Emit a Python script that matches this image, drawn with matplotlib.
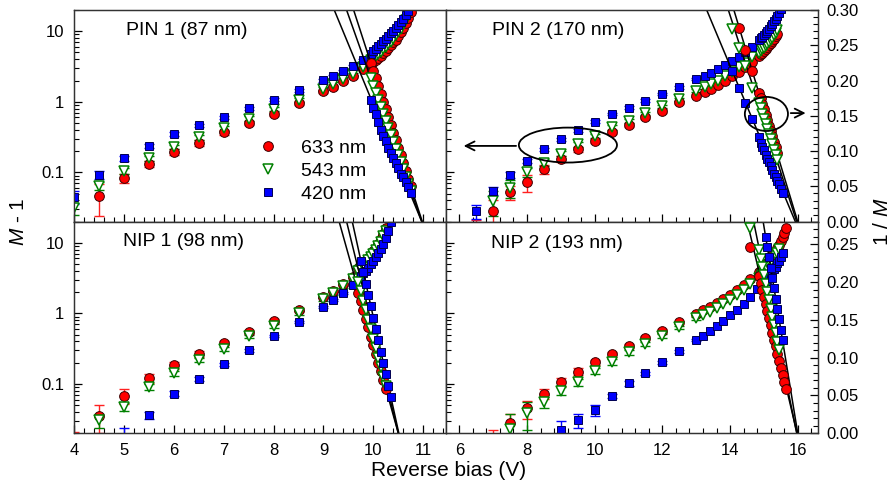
import numpy as np
import matplotlib
matplotlib.use("Agg")
import matplotlib.pyplot as plt
from matplotlib.patches import Ellipse
from matplotlib.ticker import (MultipleLocator, LogLocator, NullFormatter,
                               FixedLocator, FixedFormatter, FormatStrFormatter)

nan = np.nan

# ---------------- PIN 1 (87 nm) ----------------
pin1_v = [4.0, 4.5, 5.0, 5.5, 6.0, 6.5, 7.0, 7.5, 8.0, 8.5, 9.0, 9.2, 9.4, 9.6, 9.8]
pin1_red = [nan, 0.046, 0.083, 0.131, 0.194, 0.265, 0.368, 0.499, 0.67, 0.96, 1.40, 1.63, 1.97, 2.29, 2.91]
pin1_red_err = [nan, 0.022, 0.012, 0.012, 0.02, 0.025, 0.03, 0.035, 0.045, 0.06, 0.08, 0.09, 0.1, 0.11, 0.13]
pin1_green = [0.031, 0.064, 0.105, 0.159, 0.23, 0.313, 0.42, 0.58, 0.79, 1.07, 1.51, 1.78, 2.10, 2.47, 3.07]
pin1_green_err = [0.006, 0.008, 0.01, 0.012, 0.018, 0.022, 0.03, 0.04, 0.05, 0.07, 0.09, 0.1, 0.12, 0.13, 0.15]
pin1_blue = [0.045, 0.092, 0.159, 0.238, 0.348, 0.467, 0.607, 0.805, 1.07, 1.45, 2.01, 2.29, 2.70, 3.18, 3.86]
pin1_blue_err = [0.009, 0.011, 0.013, 0.016, 0.02, 0.025, 0.032, 0.04, 0.05, 0.07, 0.09, 0.1, 0.12, 0.13, 0.15]

pin1_vd = [9.95, 10.0, 10.05, 10.1, 10.15, 10.2, 10.25, 10.3, 10.35, 10.4, 10.45, 10.5,
           10.55, 10.6, 10.65, 10.7, 10.75]
pin1_red_d = [3.44, 3.67, 3.93, 4.21, 4.52, 4.88, 5.29, 5.76, 6.30, 6.94, 7.62, 8.52, 9.64, 11.0, 12.9, 15.4, 19.0]
pin1_red_inv = [0.225, 0.214, 0.203, 0.192, 0.181, 0.170, 0.159, 0.148, 0.137, 0.126, 0.116, 0.105,
                0.094, 0.083, 0.072, 0.061, 0.050]
pin1_green_d = [3.93, 4.18, 4.46, 4.78, 5.13, 5.54, 5.99, 6.52, 7.13, 7.85, 8.71, 9.64, 10.9, 12.5, 14.6, 17.5, 21.7]
pin1_green_inv = [0.203, 0.193, 0.183, 0.173, 0.163, 0.153, 0.143, 0.133, 0.123, 0.113, 0.103, 0.094,
                  0.084, 0.074, 0.064, 0.054, 0.044]
pin1_blue_d = [4.8, 5.2, 5.6, 6.1, 6.7, 7.2, 7.8, 8.5, 9.3, 10.1, 11.0, 12.2, 13.6, 15.0, 17.0, 19.5, 24.0]
pin1_blue_inv = [0.172, 0.161, 0.152, 0.141, 0.130, 0.122, 0.114, 0.105, 0.097, 0.090, 0.083, 0.076,
                 0.068, 0.063, 0.056, 0.049, 0.040]
# linear fits of 1/M: breakdown voltage and slope (red, green, blue)
pin1_vbd = [10.98, 10.97, 10.97]
pin1_slope = [0.218, 0.199, 0.171]

# ---------------- PIN 2 (170 nm) ----------------
pin2_v = [6.5, 7.0, 7.5, 8.0, 8.5, 9.0, 9.5, 10.0, 10.5, 11.0, 11.5, 12.0, 12.5, 13.0]
pin2_red = [0.015, 0.028, 0.052, 0.072, 0.111, 0.157, 0.213, 0.28, 0.375, 0.467, 0.60, 0.745, 0.98, 1.22]
pin2_red_err = [0.006, 0.013, 0.012, 0.02, 0.015, 0.015, 0.018, 0.02, 0.025, 0.03, 0.035, 0.04, 0.05, 0.06]
pin2_green = [nan, 0.039, 0.061, 0.102, 0.138, 0.185, 0.251, 0.33, 0.433, 0.538, 0.684, 0.86, 1.09, 1.43]
pin2_green_err = [nan, 0.015, 0.018, 0.015, 0.015, 0.015, 0.02, 0.025, 0.03, 0.035, 0.04, 0.05, 0.06, 0.07]
pin2_blue = [0.028, 0.055, 0.091, 0.146, 0.213, 0.296, 0.397, 0.52, 0.67, 0.83, 1.03, 1.29, 1.60, 2.10]
pin2_blue_err = [0.006, 0.007, 0.009, 0.01, 0.012, 0.015, 0.02, 0.025, 0.03, 0.04, 0.05, 0.06, 0.07, 0.09]

pin2_rg_vd = [13.25, 13.45, 13.65, 13.85, 14.05, 14.25, 14.45, 14.65, 14.85, 14.9, 14.95, 15.0,
              15.05, 15.1, 15.15, 15.2, 15.25, 15.3, 15.35, 15.4]
pin2_red_d = [1.36, 1.51, 1.72, 1.98, 2.29, 2.64, 3.1, 3.7, 4.49, 4.71, 4.99, 5.29, 5.62, 5.94,
              6.35, 6.75, 7.26, 7.85, 8.43, 9.2]
pin2_red_inv = [nan, nan, nan, nan, nan, 0.275, 0.244, 0.213, 0.182, 0.175, 0.167, 0.159, 0.151,
                0.144, 0.136, 0.129, 0.121, 0.113, 0.106, 0.098]
pin2_green_d = [1.6, 1.78, 1.98, 2.29, 2.61, 3.07, 3.55, 4.29, 4.95, 5.21, 5.54, 5.85, 6.19, 6.63,
                7.06, 7.55, 8.09, 8.8, 9.5, 10.4]
pin2_green_inv = [nan, nan, nan, nan, 0.273, 0.246, 0.22, 0.189, 0.168, 0.161, 0.153, 0.146, 0.139,
                  0.131, 0.124, 0.117, 0.110, 0.102, 0.095, 0.088]
pin2_blue_vd = [13.25, 13.45, 13.65, 13.85, 14.05, 14.25, 14.45, 14.65, 14.85, 14.9, 14.95, 15.0,
                15.05, 15.1, 15.15, 15.2, 15.25, 15.3, 15.35, 15.4, 15.45, 15.5, 15.55]
pin2_blue_d = [2.34, 2.6, 2.9, 3.3, 3.75, 4.3, 5.0, 5.9, 7.4, 7.9, 8.4, 8.9, 9.5, 10.2, 10.9, 11.7,
               12.7, 13.8, 15.0, 16.4, 18.0, 20.5, 24.0]
pin2_blue_inv = [nan, nan, nan, nan, 0.213, 0.19, 0.168, 0.146, 0.12, 0.112, 0.106, 0.101, 0.095,
                 0.089, 0.084, 0.079, 0.073, 0.068, 0.063, 0.058, 0.053, 0.046, 0.040]
pin2_vbd = [16.0, 15.97, 15.93]
pin2_slope = [0.159, 0.1485, 0.1145]

# ---------------- NIP 1 (98 nm) ----------------
nip1_v = [4.0, 4.5, 5.0, 5.5, 6.0, 6.5, 7.0, 7.5, 8.0, 8.5, 9.0, 9.2, 9.4, 9.6]
nip1_red = [0.012, 0.035, 0.068, 0.121, 0.185, 0.267, 0.383, 0.548, 0.785, 1.12, 1.72, 2.07, 2.58, 3.31]
nip1_red_err = [0.009, 0.015, 0.016, 0.017, 0.02, 0.025, 0.03, 0.035, 0.045, 0.06, 0.08, 0.09, 0.1, 0.12]
nip1_green = [nan, 0.031, 0.047, 0.091, 0.142, 0.218, 0.318, 0.472, 0.668, 1.01, 1.6, 1.94, 2.42, 3.07]
nip1_green_err = [nan, 0.007, 0.006, 0.008, 0.012, 0.015, 0.02, 0.03, 0.04, 0.06, 0.08, 0.09, 0.1, 0.12]
nip1_blue = [nan, nan, 0.018, 0.036, 0.073, 0.117, 0.191, 0.301, 0.482, 0.76, 1.24, 1.55, 1.94, 2.52]
nip1_blue_err = [nan, nan, 0.006, 0.004, 0.006, 0.008, 0.01, 0.015, 0.02, 0.03, 0.05, 0.06, 0.07, 0.09]

nip1_rg_vd = [9.7, 9.75, 9.8, 9.85, 9.9, 9.95, 10.0, 10.05, 10.1, 10.15, 10.2, 10.25]
nip1_red_d = [4.38, 4.71, 5.13, 5.62, 6.14, 6.81, 7.55, 8.52, 9.75, 11.2, 13.3, 16.2]
nip1_red_inv = [0.186, 0.175, 0.163, 0.151, 0.140, 0.128, 0.117, 0.105, 0.093, 0.082, 0.070, 0.058]
nip1_green_d = [4.0, 4.32, 4.71, 5.13, 5.67, 6.25, 7.0, 7.85, 9.0, 10.4, 12.3, 14.9]
nip1_green_inv = [0.200, 0.188, 0.175, 0.163, 0.150, 0.138, 0.125, 0.113, 0.100, 0.088, 0.075, 0.063]
nip1_blue_vd = [9.75, 9.8, 9.85, 9.9, 9.95, 10.0, 10.05, 10.1, 10.15, 10.2, 10.25, 10.3, 10.35]
nip1_blue_d = [3.39, 3.69, 4.05, 4.46, 4.95, 5.54, 6.25, 7.13, 8.26, 9.75, 11.8, 14.9, 19.8]
nip1_blue_inv = [0.228, 0.213, 0.198, 0.183, 0.168, 0.153, 0.138, 0.123, 0.108, 0.093, 0.078, 0.063, 0.048]
nip1_vbd = [10.5, 10.5, 10.51]
nip1_slope = [0.236, 0.27, 0.30]

# ---------------- NIP 2 (193 nm) ----------------
nip2_v = [7.0, 7.5, 8.0, 8.5, 9.0, 9.5, 10.0, 10.5, 11.0, 11.5, 12.0, 12.5, 13.0]
nip2_red = [0.015, 0.028, 0.045, 0.073, 0.108, 0.15, 0.202, 0.265, 0.347, 0.446, 0.567, 0.745, 0.98]
nip2_red_err = [0.007, 0.01, 0.013, 0.012, 0.014, 0.016, 0.018, 0.02, 0.025, 0.03, 0.035, 0.045, 0.05]
nip2_green = [nan, 0.023, 0.039, 0.055, 0.080, 0.107, 0.153, 0.206, 0.28, 0.367, 0.481, 0.633, 0.85]
nip2_green_err = [nan, 0.015, 0.017, 0.01, 0.01, 0.012, 0.014, 0.018, 0.02, 0.025, 0.03, 0.04, 0.05]
nip2_blue = [nan, nan, nan, nan, 0.022, 0.031, 0.043, 0.068, 0.102, 0.141, 0.202, 0.289, 0.418]
nip2_blue_err = [nan, nan, nan, nan, 0.008, 0.007, 0.008, 0.005, 0.007, 0.008, 0.01, 0.012, 0.015]

nip2_red_vd = [13.2, 13.4, 13.6, 13.8, 14.0, 14.2, 14.4, 14.6, 14.85, 14.9, 14.95, 15.0, 15.05,
               15.1, 15.15, 15.2, 15.25, 15.3, 15.35, 15.4, 15.45, 15.5, 15.55, 15.6, 15.65]
nip2_red_d = [1.11, 1.24, 1.40, 1.60, 1.83, 2.14, 2.52, 3.07, 3.81, 4.03, 4.26, 4.56, 4.85, 5.17,
              5.58, 5.99, 6.52, 7.06, 7.70, 8.52, 9.42, 10.6, 12.0, 13.7, 16.2]
nip2_red_inv = [nan, nan, nan, nan, nan, nan, nan, 0.247, 0.208, 0.199, 0.190, 0.180, 0.171, 0.162,
                0.152, 0.143, 0.133, 0.124, 0.115, 0.105, 0.096, 0.086, 0.077, 0.068, 0.058]
nip2_green_vd = [13.2, 13.4, 13.6, 13.8, 14.0, 14.2, 14.4, 14.6, 14.85, 14.9, 14.95, 15.0, 15.05,
                 15.1, 15.15, 15.2, 15.25, 15.3, 15.35, 15.4, 15.45]
nip2_green_d = [0.95, 1.05, 1.19, 1.35, 1.56, 1.82, 2.16, 2.6, 3.13, 3.33, 3.55, 3.78, 4.05, 4.35,
                4.68, 5.06, 5.49, 5.99, 6.58, 7.26, 8.09]
nip2_green_inv = [nan, nan, nan, nan, nan, nan, nan, 0.272, 0.242, 0.231, 0.220, 0.209, 0.198,
                  0.187, 0.176, 0.165, 0.154, 0.143, 0.132, 0.121, 0.110]
nip2_blue_vd = [13.2, 13.4, 13.6, 13.8, 14.0, 14.2, 14.4, 14.6, 14.8, 15.05, 15.1, 15.15, 15.2,
                15.25, 15.3, 15.35, 15.4, 15.45, 15.5, 15.55]
nip2_blue_d = [0.481, 0.566, 0.667, 0.785, 0.946, 1.12, 1.35, 1.69, 2.21, 2.85, 3.05, 3.29, 3.57,
               3.85, 4.21, 4.62, 5.10, 5.62, 6.30, 7.13]
nip2_blue_inv = [nan, nan, nan, nan, nan, nan, nan, nan, nan, 0.260, 0.247, 0.233, 0.219, 0.206,
                 0.192, 0.178, 0.164, 0.151, 0.137, 0.123]
nip2_vbd = [15.98, 15.97, 16.0]
nip2_slope = [0.19, 0.22, 0.274]

wavelengths = ["633 nm", "543 nm", "420 nm"]

plt.rcParams['font.family'] = ['Liberation Sans', 'DejaVu Sans']
plt.rcParams['mathtext.fontset'] = 'custom'
plt.rcParams['mathtext.it'] = 'Liberation Sans:italic'
plt.rcParams['mathtext.rm'] = 'Liberation Sans'
plt.rcParams['axes.linewidth'] = 0.9
plt.rcParams['axes.edgecolor'] = '#333333'

styles = [
    dict(marker='o', ms=7.0, mfc='#ff0000', mec='#3a0000', mew=0.7),
    dict(marker='v', ms=7.4, mfc='white', mec='#008000', mew=1.1),
    dict(marker='s', ms=6.2, mfc='#0000ff', mec='#000050', mew=0.7),
]
err_colors = ['#ff2020', '#008000', '#0000ff']

fig = plt.figure(figsize=(8.93, 4.87), dpi=100)


def make_panel(rect, xlim, inv_top, left_col, bottom_row):
    ax = fig.add_axes(rect)
    ax.set_yscale('log')
    ax.set_xlim(xlim)
    ax.set_ylim(0.02, 20)
    ax.yaxis.set_major_locator(FixedLocator([0.1, 1, 10]))
    ax.yaxis.set_minor_locator(LogLocator(base=10, subs=np.arange(2, 10)))
    ax.yaxis.set_minor_formatter(NullFormatter())
    if left_col:
        ax.yaxis.set_major_formatter(FixedFormatter(['0.1', '1', '10']))
        ax.xaxis.set_major_locator(MultipleLocator(1))
        ax.xaxis.set_minor_locator(MultipleLocator(0.2))
    else:
        ax.yaxis.set_major_formatter(NullFormatter())
        ax.xaxis.set_major_locator(MultipleLocator(2))
        ax.xaxis.set_minor_locator(MultipleLocator(0.4))
    ax.tick_params(axis='y', which='both', direction='in', left=True, right=left_col,
                   labelleft=left_col, labelsize=12, pad=7)
    ax.tick_params(axis='x', which='both', direction='in', top=False, bottom=True,
                   labelbottom=bottom_row, labelsize=12, pad=7)
    ax.tick_params(which='major', length=6, width=0.9)
    ax.tick_params(which='minor', length=3.5, width=0.8)

    ax_inv = ax.twinx()
    ax_inv.set_ylim(0, inv_top)
    if left_col:
        ax_inv.set_yticks([])
    else:
        ax_inv.yaxis.set_major_locator(MultipleLocator(0.05))
        ax_inv.yaxis.set_minor_locator(MultipleLocator(0.01))
        ax_inv.yaxis.set_major_formatter(FormatStrFormatter('%.2f'))
        ax_inv.tick_params(axis='y', which='both', direction='in', labelsize=12, pad=6)
        ax_inv.tick_params(which='major', length=6, width=0.9)
        ax_inv.tick_params(which='minor', length=3.5, width=0.8)
    return ax, ax_inv


def draw_data(ax, ax_inv, low, dense, vbd, slopes, labels=None):
    # low bias points with error bars, M - 1 on the log axis
    for i, (v, y, e) in enumerate(low):
        ax.errorbar(v, y, yerr=e, fmt='none', ecolor=err_colors[i], elinewidth=1,
                    capsize=3.5, capthick=1, zorder=2)
        ax.plot(v, y, ls='none', zorder=3, label=labels[i] if labels else None, **styles[i])
    # high bias points: M - 1 (log axis) and 1/M (linear axis)
    for i, (v, y, inv) in enumerate(dense):
        ax.plot(v, y, ls='none', zorder=3, **styles[i])
        ax_inv.plot(v, inv, ls='none', zorder=3, **styles[i])
    xs = np.array(ax.get_xlim())
    for vb, s in zip(vbd, slopes):
        ax_inv.plot(xs, s * (vb - xs), color='black', lw=1.1, zorder=2)


left_w = 372 / 893
right_w = 371.7 / 893
top_b = (487 - 221.7) / 487
bot_b = (487 - 433.3) / 487
h = 211.7 / 487
xl_left = (4, 11.455)
xl_right = (5.607, 16.59)

ax1, ax1i = make_panel([74 / 893, top_b, left_w, h], xl_left, 0.30, True, False)
ax2, ax2i = make_panel([446 / 893, top_b, right_w, h], xl_right, 0.30, False, False)
ax3, ax3i = make_panel([74 / 893, bot_b, left_w, h], xl_left, 0.28, True, True)
ax4, ax4i = make_panel([446 / 893, bot_b, right_w, h], xl_right, 0.28, False, True)

draw_data(ax1, ax1i,
          [(pin1_v, pin1_red, pin1_red_err), (pin1_v, pin1_green, pin1_green_err),
           (pin1_v, pin1_blue, pin1_blue_err)],
          [(pin1_vd, pin1_red_d, pin1_red_inv), (pin1_vd, pin1_green_d, pin1_green_inv),
           (pin1_vd, pin1_blue_d, pin1_blue_inv)],
          pin1_vbd, pin1_slope, labels=wavelengths)
draw_data(ax2, ax2i,
          [(pin2_v, pin2_red, pin2_red_err), (pin2_v, pin2_green, pin2_green_err),
           (pin2_v, pin2_blue, pin2_blue_err)],
          [(pin2_rg_vd, pin2_red_d, pin2_red_inv), (pin2_rg_vd, pin2_green_d, pin2_green_inv),
           (pin2_blue_vd, pin2_blue_d, pin2_blue_inv)],
          pin2_vbd, pin2_slope)
draw_data(ax3, ax3i,
          [(nip1_v, nip1_red, nip1_red_err), (nip1_v, nip1_green, nip1_green_err),
           (nip1_v, nip1_blue, nip1_blue_err)],
          [(nip1_rg_vd, nip1_red_d, nip1_red_inv), (nip1_rg_vd, nip1_green_d, nip1_green_inv),
           (nip1_blue_vd, nip1_blue_d, nip1_blue_inv)],
          nip1_vbd, nip1_slope)
draw_data(ax4, ax4i,
          [(nip2_v, nip2_red, nip2_red_err), (nip2_v, nip2_green, nip2_green_err),
           (nip2_v, nip2_blue, nip2_blue_err)],
          [(nip2_red_vd, nip2_red_d, nip2_red_inv), (nip2_green_vd, nip2_green_d, nip2_green_inv),
           (nip2_blue_vd, nip2_blue_d, nip2_blue_inv)],
          nip2_vbd, nip2_slope)

# panel titles
ax1.text(0.14, 0.905, "PIN 1 (87 nm)", transform=ax1.transAxes, fontsize=14, va='center')
ax2.text(0.123, 0.905, "PIN 2 (170 nm)", transform=ax2.transAxes, fontsize=14, va='center')
ax3.text(0.131, 0.905, "NIP 1 (98 nm)", transform=ax3.transAxes, fontsize=14, va='center')
ax4.text(0.12, 0.895, "NIP 2 (193 nm)", transform=ax4.transAxes, fontsize=14, va='center')

ax1.legend(loc='upper left', bbox_to_anchor=(0.495, 0.39), frameon=False, fontsize=14,
           handlelength=1.0, handletextpad=1.2, labelspacing=0.28, borderpad=0,
           borderaxespad=0, numpoints=1)

# ellipses with arrows pointing to the matching axis
ax2i.add_patch(Ellipse((0.328, 0.362), 0.264, 0.165, transform=ax2i.transAxes,
                       fill=False, lw=1.3, ec='black', zorder=5))
ax2i.annotate('', xy=(0.040, 0.358), xytext=(0.196, 0.358), xycoords='axes fraction',
              arrowprops=dict(arrowstyle='->', lw=1.3, color='black', mutation_scale=16))
ax2i.add_patch(Ellipse((0.862, 0.509), 0.116, 0.161, transform=ax2i.transAxes,
                       fill=False, lw=1.3, ec='black', zorder=5))
ax2i.annotate('', xy=(0.975, 0.513), xytext=(0.920, 0.513), xycoords='axes fraction',
              arrowprops=dict(arrowstyle='->', lw=1.3, color='black', mutation_scale=16))

fig.text(18 / 893, 1 - 222 / 487, r"$M$ - 1", rotation=90, ha='center', va='center', fontsize=15)
fig.text(882 / 893, 1 - 222 / 487, r"1 / $M$", rotation=90, ha='center', va='center', fontsize=15)
fig.text(449 / 893, 1 - 471 / 487, "Reverse bias (V)", ha='center', va='center', fontsize=15)

fig.savefig("out.png", dpi=100)
